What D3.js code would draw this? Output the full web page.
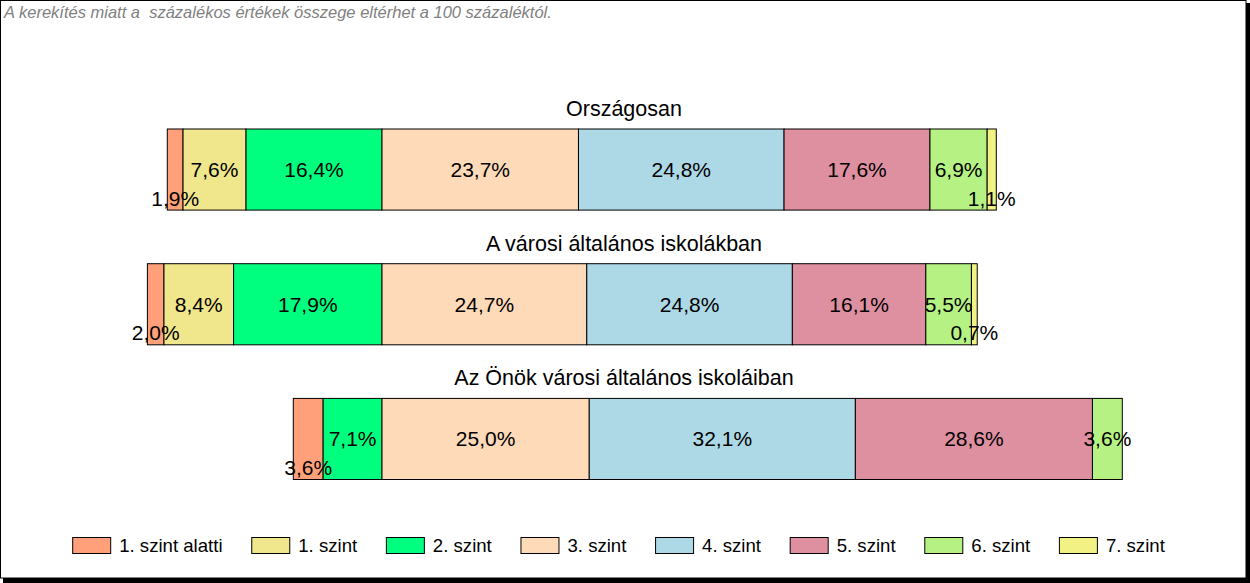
<!DOCTYPE html>
<html><head><meta charset="utf-8">
<script src="https://cdn.jsdelivr.net/npm/d3@7/dist/d3.min.js"></script>
<style>
html,body{margin:0;padding:0;background:#fff;}
svg{display:block;font-family:"Liberation Sans",Arial,sans-serif;}
</style></head>
<body>
<svg id="chart" width="1250" height="583"></svg>
<script>
const note = "A kerekítés miatt a  százalékos értékek összege eltérhet a 100 százaléktól.";
const categories = ["Országosan", "A városi általános iskolákban", "Az Önök városi általános iskoláiban"];
const levels = ["1. szint alatti", "1. szint", "2. szint", "3. szint", "4. szint", "5. szint", "6. szint", "7. szint"];
const colors = ["#FFA07A", "#F0E68C", "#00FF7F", "#FFDAB9", "#ADD8E6", "#DE8FA0", "#B6F283", "#F2F284"];
const valuesOrszagosan = [1.9, 7.6, 16.4, 23.7, 24.8, 17.6, 6.9, 1.1];
const valuesVarosi = [2.0, 8.4, 17.9, 24.7, 24.8, 16.1, 5.5, 0.7];
const valuesOnok = [3.6, 0, 7.1, 25.0, 32.1, 28.6, 3.6, 0];
const seriesValues = [valuesOrszagosan, valuesVarosi, valuesOnok];
const lowLabelLevels = [0, 7]; // labels of these levels sit at the bottom of the bar
const splitIndex = 3; // bars are aligned where "3. szint" begins

const svg = d3.select("#chart");
const W = 1250, H = 583;

// frame with shadow
svg.append("rect").attr("x", 3).attr("y", 3).attr("width", W - 3).attr("height", H - 3).attr("fill", "#000");
svg.append("rect").attr("x", 0.5).attr("y", 0.5).attr("width", W - 4.5).attr("height", H - 5.5)
  .attr("fill", "#fff").attr("stroke", "#000").attr("stroke-width", 1);

svg.append("text").attr("x", 4).attr("y", 18).attr("font-style", "italic").attr("font-size", 16.5)
  .attr("fill", "#808080").style("white-space", "pre").text(note);

const x = d3.scaleLinear().domain([-40, 100]).range([50.4, 1211]);
const y = d3.scaleBand().domain(categories).range([129, 479.5]).paddingInner(0.398).paddingOuter(0);

categories.forEach((cat, ci) => {
  const vals = seriesValues[ci];
  const leftSum = d3.sum(vals.slice(0, splitIndex));
  let start = -leftSum;
  const segs = vals.map((v, i) => {
    const s = { level: i, v: v, x0: start, x1: start + v };
    start += v;
    return s;
  });
  const g = svg.append("g");
  const y0 = y(cat), bh = y.bandwidth();
  g.append("text").attr("x", 624).attr("y", y0 - 13).attr("text-anchor", "middle")
    .attr("font-size", 21.5).attr("fill", "#000").text(cat);
  const nz = segs.filter(s => s.v > 0);
  g.selectAll("rect.seg").data(nz).enter().append("rect")
    .attr("x", d => x(d.x0)).attr("y", y0)
    .attr("width", d => x(d.x1) - x(d.x0)).attr("height", bh)
    .attr("fill", d => colors[d.level]).attr("stroke", "#000").attr("stroke-width", 1);
  g.selectAll("text.lab").data(nz).enter().append("text")
    .attr("x", d => (x(d.x0) + x(d.x1)) / 2)
    .attr("y", d => lowLabelLevels.includes(d.level) ? y0 + bh - 4.5 : y0 + bh / 2 + 7.3)
    .attr("text-anchor", "middle").attr("font-size", 21).attr("fill", "#000")
    .text(d => d.v.toFixed(1).replace(".", ",") + "%");
});

// legend
const lg = svg.append("g");
const items = lg.selectAll("g").data(levels).enter().append("g");
items.append("rect").attr("x", 0.5).attr("y", 537.5).attr("width", 38).attr("height", 16)
  .attr("fill", (d, i) => colors[i]).attr("stroke", "#000").attr("stroke-width", 1);
items.append("text").attr("x", 47).attr("y", 552).attr("font-size", 18.6).attr("fill", "#000").text(d => d);
let cx = 0;
const offs = [];
const gap = 28.7;
items.each(function () {
  const tw = d3.select(this).select("text").node().getComputedTextLength();
  offs.push(cx);
  cx += 47 + tw + gap;
});
const total = cx - gap;
const lx = 618.5 - total / 2;
items.attr("transform", (d, i) => `translate(${lx + offs[i]},0)`);
</script>
</body></html>
